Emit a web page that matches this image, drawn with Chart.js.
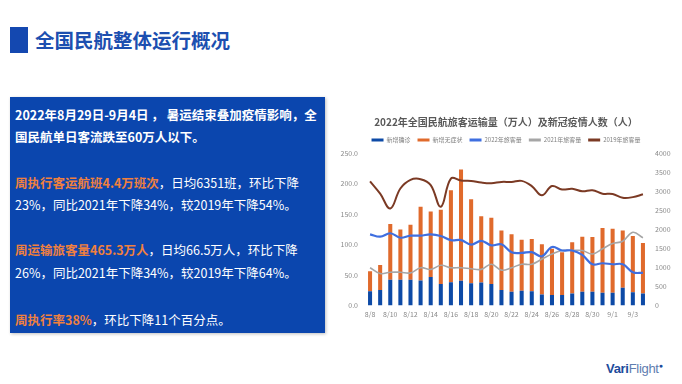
<!DOCTYPE html>
<html>
<head>
<meta charset="utf-8">
<script src="https://cdn.jsdelivr.net/npm/chart.js@4"></script>
<style>
  html, body { margin: 0; padding: 0; background: #fff; }
  body { width: 682px; height: 384px; position: relative; overflow: hidden;
         font-family: "Noto Sans CJK SC", "Noto Sans", sans-serif; }
  .mark { position: absolute; left: 10px; top: 27px; width: 18px; height: 26px; background: #1448b0; }
  .title { position: absolute; left: 35px; top: 27px; line-height: 26px; font-size: 19.5px;
           font-weight: bold; color: #1c4fb0; white-space: nowrap; }
  .box { position: absolute; left: 10px; top: 97px; width: 315px; height: 236px; background: #0b46ae;
         box-shadow: 1px 1px 3px rgba(0,0,0,0.25); }
  .ln { position: absolute; left: 5px; font-size: 12.5px; line-height: 22px; color: #fff; white-space: nowrap; }
  .b { font-weight: bold; }
  .o { color: #f0803e; font-weight: bold; }
  .wrap { position: absolute; left: 330px; top: 108px; width: 352px; height: 220px; }
  .logo { position: absolute; left: 606px; top: 361px; font-size: 13px; font-family: Arial, "Liberation Sans", sans-serif;
          white-space: nowrap; letter-spacing: -0.3px; }
  .logo .v { color: #1d4c9c; font-weight: bold; }
  .logo .f { color: #5f7db0; }
  .logo sup { font-size: 7px; color: #1d4c9c; }
</style>
</head>
<body>
<div class="mark"></div>
<div class="title">全国民航整体运行概况</div>

<div class="box">
  <div class="ln b" style="top:7px">2022年8月29日-9月4日 ， 暑运结束叠加疫情影响，全</div>
  <div class="ln b" style="top:29px">国民航单日客流跌至60万人以下。</div>
  <div class="ln" style="top:75px"><span class="o">周执行客运航班4.4万班次</span>，日均6351班，环比下降</div>
  <div class="ln" style="top:97px">23%，同比2021年下降34%，较2019年下降54%。</div>
  <div class="ln" style="top:142px"><span class="o">周运输旅客量465.3万人</span>，日均66.5万人，环比下降</div>
  <div class="ln" style="top:165px">26%，同比2021年下降34%，较2019年下降64%。</div>
  <div class="ln" style="top:212px"><span class="o">周执行率38%</span>，环比下降11个百分点。</div>
</div>

<div class="wrap"><canvas id="myChart"></canvas></div>

<div class="logo"><span class="v">Vari</span><span class="f">Flight</span><sup>●</sup></div>

<script>
// Dates 8/8 - 9/4
const dates = ["8/8","8/9","8/10","8/11","8/12","8/13","8/14","8/15","8/16","8/17","8/18","8/19","8/20","8/21",
               "8/22","8/23","8/24","8/25","8/26","8/27","8/28","8/29","8/30","8/31","9/1","9/2","9/3","9/4"];

// New confirmed cases (people, right axis)
const newConfirmed = [379,406,677,677,677,659,749,569,614,650,587,605,569,406,
                      361,388,379,289,280,280,316,361,361,334,334,470,352,316];
// New asymptomatic cases (people, right axis)
const newAsymptomatic = [524,659,1463,1318,1445,1932,1716,1941,2411,2917,2203,1734,1733,1562,
                         1508,1337,1364,1318,1210,1120,1345,1445,1436,1698,1680,1498,1472,1327];

// Passenger volume (10k people, left axis)
const pax2022 = [116.8,112.9,118.5,111.2,114.6,114.6,116.8,114.0,107.2,107.2,99.9,106.1,98.8,100.4,
                 87.5,86.3,87.5,80.7,95.9,90.3,90.3,83.0,67.7,69.4,67.7,67.7,54.7,53.6];
const pax2021 = [62.1,52.5,54.7,54.7,53.6,62.1,59.3,66.0,62.1,62.1,60.4,59.3,67.7,58.1,
                 62.1,67.7,67.7,76.2,84.6,90.3,90.3,90.3,84.6,93.1,101.6,105.5,120.2,111.2];
const pax2019 = [203.7,183.4,159.1,191.9,206.0,207.1,197.5,162.0,208.2,204.8,204.3,201.5,200.4,202.6,
                 202.6,204.3,195.8,180.6,195.8,190.2,191.3,187.3,189.0,183.4,182.8,176.6,177.7,182.3];

const tickColor = "#8a8a8a";
const tickFont = { family: "'Noto Sans CJK SC', sans-serif", size: 7 };

var ctx = document.getElementById("myChart").getContext("2d");
var myChart = new Chart(ctx, {
  data: {
    labels: dates,
    datasets: [
      { type: "bar", label: "新增确诊", data: newConfirmed, yAxisID: "y1", stack: "cases",
        backgroundColor: "#0d4aa6", barPercentage: 0.4, categoryPercentage: 1, order: 2 },
      { type: "bar", label: "新增无症状", data: newAsymptomatic, yAxisID: "y1", stack: "cases",
        backgroundColor: "#e06a2c", barPercentage: 0.4, categoryPercentage: 1, order: 2 },
      { type: "line", label: "2022年旅客量", data: pax2022, yAxisID: "y",
        borderColor: "#3f6fe0", backgroundColor: "#3f6fe0", borderWidth: 2.2, pointRadius: 0, tension: 0.4, order: 1 },
      { type: "line", label: "2021年旅客量", data: pax2021, yAxisID: "y",
        borderColor: "#a6a6a6", backgroundColor: "#a6a6a6", borderWidth: 1.6, pointRadius: 0, tension: 0.4, order: 1 },
      { type: "line", label: "2019年旅客量", data: pax2019, yAxisID: "y",
        borderColor: "#7b3a24", backgroundColor: "#7b3a24", borderWidth: 2, pointRadius: 0, tension: 0.4, order: 1 }
    ]
  },
  options: {
    responsive: true,
    maintainAspectRatio: false,
    animation: false,
    layout: { padding: { left: 0, right: 0, top: 0, bottom: 4 } },
    plugins: {
      tooltip: { enabled: false },
      title: {
        display: true,
        text: "2022年全国民航旅客运输量（万人）及新冠疫情人数（人）",
        color: "#595959",
        font: { family: "'Noto Sans CJK SC', sans-serif", size: 10, weight: "bold" },
        padding: { top: 8, bottom: 2 }
      },
      legend: {
        position: "top",
        labels: {
          color: "#7f7f7f",
          font: { family: "'Noto Sans CJK SC', sans-serif", size: 6 },
          boxWidth: 12,
          boxHeight: 3,
          padding: 7,
          sort: (a, b) => a.datasetIndex - b.datasetIndex,
          generateLabels: function (chart) {
            const items = Chart.defaults.plugins.legend.labels.generateLabels(chart);
            items.forEach((it) => { it.lineWidth = 0; });
            return items;
          }
        }
      }
    },
    scales: {
      x: {
        stacked: true,
        grid: { display: false, drawTicks: false },
        border: { display: false },
        ticks: {
          color: tickColor, font: tickFont, padding: 5, autoSkip: false, maxRotation: 0,
          callback: function (value, index) { return index % 2 === 0 ? this.getLabelForValue(value) : ""; }
        }
      },
      y: {
        position: "left",
        min: 0, max: 250,
        grid: { display: false, drawTicks: false },
        border: { display: false },
        ticks: { stepSize: 50, color: tickColor, font: tickFont, padding: 7,
                 callback: (v) => v.toFixed(1) },
        afterFit: (scale) => { scale.width = 35; }
      },
      y1: {
        position: "right",
        stacked: true,
        min: 0, max: 4000,
        grid: { display: false, drawTicks: false },
        border: { display: false },
        ticks: { stepSize: 500, color: tickColor, font: tickFont, padding: 7,
                 callback: (v) => String(v) },
        afterFit: (scale) => { scale.width = 34; }
      }
    }
  }
});
</script>
</body>
</html>
